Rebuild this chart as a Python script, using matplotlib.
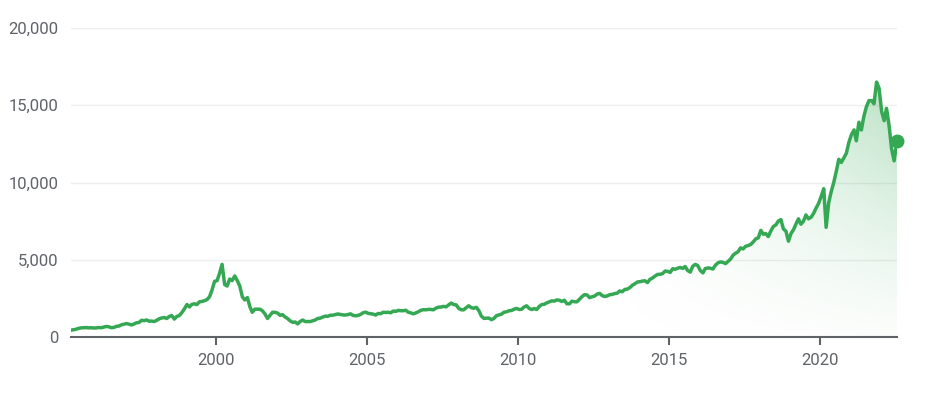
import numpy as np
import pandas as pd
import matplotlib
matplotlib.use("Agg")
import matplotlib.pyplot as plt
import matplotlib.dates as mdates
from matplotlib.patches import PathPatch
from matplotlib.path import Path

plt.rcParams['font.family'] = ['Roboto', 'DejaVu Sans']

# Monthly index level (mid-month), Mar 1995 .. Jul 2022
y1995 = [440, 470, 500, 560, 590, 600, 610, 590, 600, 580]
y1996 = [590, 610, 600, 640, 680, 660, 600, 620, 690, 710, 790, 830]
y1997 = [870, 830, 780, 840, 920, 940, 1080, 1060, 1100, 1020, 1030, 1000]
y1998 = [1080, 1180, 1230, 1260, 1200, 1330, 1390, 1160, 1330, 1390, 1580, 1820]
y1999 = [2100, 1950, 2110, 2150, 2100, 2280, 2300, 2350, 2420, 2600, 3050, 3600]
y2000 = [3650, 4150, 4700, 3400, 3300, 3750, 3650, 3950, 3650, 3300, 2600, 2400]
y2001 = [2550, 1950, 1600, 1800, 1800, 1800, 1700, 1500, 1200, 1400, 1600, 1600]
y2002 = [1550, 1400, 1450, 1300, 1200, 1050, 950, 970, 850, 1000, 1100, 1000]
y2003 = [1000, 1000, 1050, 1100, 1200, 1220, 1290, 1350, 1340, 1410, 1410, 1450]
y2004 = [1490, 1460, 1430, 1420, 1450, 1500, 1400, 1370, 1400, 1460, 1570, 1610]
y2005 = [1530, 1500, 1480, 1420, 1520, 1510, 1600, 1590, 1600, 1570, 1680, 1660]
y2006 = [1720, 1700, 1700, 1730, 1600, 1560, 1500, 1560, 1640, 1730, 1770, 1760]
y2007 = [1790, 1780, 1760, 1870, 1930, 1940, 1980, 1950, 2080, 2200, 2100, 2080]
y2008 = [1850, 1760, 1760, 1900, 2020, 1900, 1860, 1920, 1700, 1350, 1200, 1220]
y2009 = [1220, 1120, 1200, 1380, 1430, 1480, 1600, 1630, 1700, 1720, 1800, 1850]
y2010 = [1780, 1800, 1940, 2020, 1850, 1780, 1840, 1780, 1980, 2100, 2120, 2210]
y2011 = [2280, 2340, 2320, 2400, 2380, 2300, 2380, 2150, 2150, 2320, 2280, 2280]
y2012 = [2450, 2620, 2740, 2720, 2550, 2600, 2650, 2780, 2820, 2680, 2620, 2660]
y2013 = [2740, 2760, 2810, 2840, 2980, 2930, 3080, 3100, 3200, 3350, 3450, 3560]
y2014 = [3580, 3620, 3640, 3520, 3730, 3820, 3940, 4050, 4060, 4100, 4270, 4250]
y2015 = [4180, 4420, 4380, 4450, 4500, 4440, 4560, 4300, 4200, 4580, 4700, 4620]
y2016 = [4300, 4150, 4430, 4470, 4450, 4400, 4650, 4800, 4860, 4830, 4750, 4900]
y2017 = [5050, 5300, 5420, 5520, 5770, 5700, 5870, 5920, 5990, 6150, 6350, 6420]
y2018 = [6900, 6650, 6700, 6500, 6850, 7150, 7250, 7500, 7600, 7000, 6850, 6200]
y2019 = [6700, 6950, 7300, 7650, 7300, 7500, 7900, 7650, 7750, 8000, 8350, 8650]
y2020 = [9100, 9600, 7100, 8700, 9400, 10000, 10700, 11500, 11300, 11600, 11900, 12600]
y2021 = [13100, 13400, 12700, 13900, 13400, 14300, 14900, 15300, 15300, 15100, 16500, 16100]
y2022 = [14600, 14000, 14800, 13700, 12200, 11400, 12700]

values = np.array(y1995 + y1996 + y1997 + y1998 + y1999 + y2000 + y2001 + y2002 +
                  y2003 + y2004 + y2005 + y2006 + y2007 + y2008 + y2009 + y2010 +
                  y2011 + y2012 + y2013 + y2014 + y2015 + y2016 + y2017 + y2018 +
                  y2019 + y2020 + y2021 + y2022, dtype=float)
dates = pd.date_range('1995-03-01', periods=len(values), freq='MS') + pd.Timedelta(days=14)
dates = dates[:-1].append(pd.DatetimeIndex(['2022-07-20']))

y_ticks = [0, 5000, 10000, 15000, 20000]
y_labels = ['0', '5,000', '10,000', '15,000', '20,000']
x_tick_years = [2000, 2005, 2010, 2015, 2020]

GREEN = '#34a853'
TEXT = '#5f6368'

fig = plt.figure(figsize=(9.4, 4.01), dpi=100)
ax = fig.add_axes([71/940, 1-337/401, (897-71)/940, (337-28)/401])

x = mdates.date2num(dates)
xmin = mdates.date2num(pd.Timestamp('1995-03-15'))
xmax = mdates.date2num(pd.Timestamp('2022-07-20'))
ax.set_xlim(xmin, xmax)
ax.set_ylim(0, 20000)

# gradient fill under the curve
nx, ny = 400, 200
gx = np.linspace(0, 1, nx)
gy = np.linspace(0, 1, ny)
GX, GY = np.meshgrid(gx, gy)
ax_frac = np.clip((GX - 0.6) / 0.4, 0, 1) ** 1.5
alpha = 0.36 * ax_frac * (0.05 + 0.95 * GY ** 1.2)
rgba = np.zeros((ny, nx, 4))
rgba[..., 0] = 0x34 / 255
rgba[..., 1] = 0xa8 / 255
rgba[..., 2] = 0x53 / 255
rgba[..., 3] = alpha
im = ax.imshow(rgba, extent=[xmin, xmax, 0, 17000], origin='lower', aspect='auto', zorder=1,
               interpolation='bilinear')
verts = [(x[0], 0)] + list(zip(x, values)) + [(x[-1], 0), (x[0], 0)]
codes = [Path.MOVETO] + [Path.LINETO] * (len(verts) - 2) + [Path.CLOSEPOLY]
clip = PathPatch(Path(verts, codes), transform=ax.transData, facecolor='none', edgecolor='none')
ax.add_patch(clip)
im.set_clip_path(clip)

ax.plot(x, values, color=GREEN, lw=2.5, zorder=3, solid_joinstyle='round')
ax.plot([x[-1]], [values[-1]], 'o', color=GREEN, ms=9, zorder=4, clip_on=False)

# grid
for v in y_ticks[1:]:
    ax.axhline(v, color='#eeeeee', lw=1, zorder=0)
ax.axhline(0, color='#5f6368', lw=1.5, zorder=2, clip_on=False)

for s in ax.spines.values():
    s.set_visible(False)

ax.set_yticks(y_ticks)
ax.set_yticklabels(y_labels)
ax.tick_params(axis='y', length=0, pad=9, labelsize=12, labelcolor=TEXT)

ax.set_xticks([mdates.date2num(pd.Timestamp(f'{yr}-01-01')) for yr in x_tick_years])
ax.set_xticklabels([str(yr) for yr in x_tick_years])
ax.tick_params(axis='x', length=5.5, width=1.5, color='#5f6368', pad=6,
               labelsize=12, labelcolor=TEXT)

fig.savefig('out.png', dpi=100, facecolor='white')
